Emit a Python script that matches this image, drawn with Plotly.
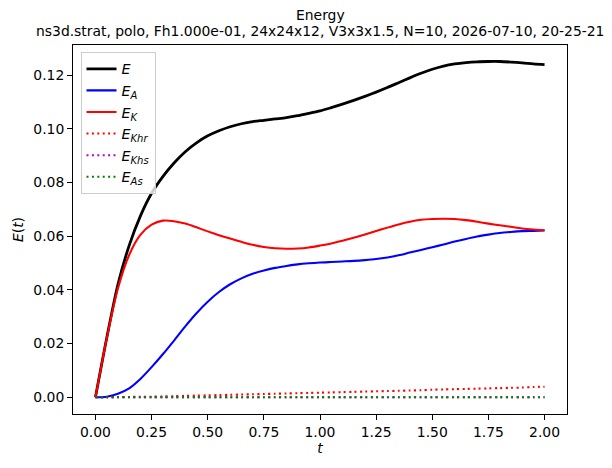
import plotly.graph_objects as go

t = [round(0.05 * i, 2) for i in range(41)]

E = [0.0, 0.0220, 0.0420, 0.0565, 0.0675, 0.0760, 0.0822, 0.0873, 0.0915, 0.0948,
     0.0974, 0.0993, 0.1008, 0.1019, 0.1027, 0.1032, 0.1037, 0.1042, 0.1049, 0.1058,
     0.1067, 0.1079, 0.1092, 0.1106, 0.1121, 0.1137, 0.1154, 0.1172, 0.1190, 0.1207,
     0.1222, 0.1234, 0.1242, 0.1247, 0.1250, 0.1251, 0.1251, 0.1249, 0.1246, 0.1242,
     0.1239]

E_A = [0.0, 0.0002, 0.0013, 0.0033, 0.0068, 0.0112, 0.0160, 0.0211, 0.0264, 0.0313,
       0.0356, 0.0392, 0.0421, 0.0443, 0.0460, 0.0472, 0.0482, 0.0489, 0.0495, 0.0499,
       0.0502, 0.0504, 0.0506, 0.0508, 0.0511, 0.0515, 0.0521, 0.0529, 0.0539, 0.0549,
       0.0559, 0.0569, 0.0580, 0.0590, 0.0599, 0.0606, 0.0612, 0.0616, 0.0619, 0.0620,
       0.0621]

E_K = [0.0, 0.0218, 0.0405, 0.0530, 0.0605, 0.0643, 0.0658, 0.0656, 0.0647, 0.0633,
       0.0618, 0.0604, 0.0591, 0.0579, 0.0568, 0.0560, 0.0555, 0.0553, 0.0554, 0.0558,
       0.0565, 0.0573, 0.0583, 0.0594, 0.0606, 0.0619, 0.0632, 0.0644, 0.0654, 0.0661,
       0.0664, 0.0665, 0.0664, 0.0660, 0.0654, 0.0647, 0.0641, 0.0635, 0.0629, 0.0625,
       0.0622]

E_Khr = [0.0, 0.0, 0.0001, 0.0001, 0.0002, 0.0002, 0.0003, 0.0004, 0.0005, 0.0006,
         0.0007, 0.0008, 0.0009, 0.0010, 0.0011, 0.0012, 0.0013, 0.0014, 0.0015, 0.0016,
         0.0017, 0.0018, 0.0019, 0.0020, 0.0021, 0.0022, 0.0023, 0.0024, 0.0025, 0.0026,
         0.0028, 0.0029, 0.0030, 0.0031, 0.0032, 0.0033, 0.0034, 0.0035, 0.0036, 0.0038,
         0.0039]

E_Khs = [0.0] * 2 + [0.00001] * 39
E_As = [0.0] * 2 + [0.00001] * 39

title_line1 = "Energy"
title_line2 = "ns3d.strat, polo, Fh1.000e-01, 24x24x12, V3x3x1.5, N=10, 2026-07-10, 20-25-21"

FONT = "DejaVu Sans"
DOT = "2px,3.4px"

series = [
    ("<i>E</i>", E, "black", 2.78, "solid"),
    ("<i>E<sub>A</sub></i>", E_A, "blue", 2.08, "solid"),
    ("<i>E<sub>K</sub></i>", E_K, "red", 2.08, "solid"),
    ("<i>E<sub>Khr</sub></i>", E_Khr, "red", 2.08, DOT),
    ("<i>E<sub>Khs</sub></i>", E_Khs, "#bf00bf", 2.08, DOT),
    ("<i>E<sub>As</sub></i>", E_As, "green", 2.08, DOT),
]

fig = go.Figure()
for name, y, color, w, dash in series:
    fig.add_trace(go.Scatter(x=t, y=y, mode="lines", name=name,
                             line=dict(color=color, width=w, dash=dash,
                                       shape="spline", smoothing=0.8)))

axis_common = dict(showline=True, linecolor="black", linewidth=1.1, mirror=True,
                   ticks="outside", ticklen=4.9, tickwidth=1.1, tickcolor="black",
                   showgrid=False, zeroline=False,
                   tickfont=dict(family=FONT, size=13.9, color="black"))

fig.update_layout(
    width=612, height=468,
    margin=dict(l=72.5, r=44.5, t=45, b=53.7),
    paper_bgcolor="white", plot_bgcolor="white",
    font=dict(family=FONT, size=13.9, color="black"),
    showlegend=True,
    legend=dict(x=0.0152, y=0.981, xanchor="left", yanchor="top",
                bgcolor="rgba(255,255,255,0.8)", bordercolor="#cccccc", borderwidth=1,
                font=dict(family=FONT, size=14.3, color="black"),
                itemwidth=30, tracegroupgap=0),
    xaxis=dict(range=[-0.1, 2.1], tickvals=[0, 0.25, 0.5, 0.75, 1.0, 1.25, 1.5, 1.75, 2.0],
               ticktext=["0.00", "0.25", "0.50", "0.75", "1.00", "1.25", "1.50", "1.75", "2.00"],
               title=dict(text="<i>t</i>", font=dict(family=FONT, size=13.9), standoff=4),
               **axis_common),
    yaxis=dict(range=[-0.00625, 0.13125], tickvals=[0, 0.02, 0.04, 0.06, 0.08, 0.10, 0.12],
               ticktext=["0.00", "0.02", "0.04", "0.06", "0.08", "0.10", "0.12"],
               title=dict(text="<i>E</i>(<i>t</i>)", font=dict(family=FONT, size=13.9), standoff=6),
               **axis_common),
    annotations=[
        dict(text=title_line1, xref="paper", yref="paper", x=0.5, y=1, xanchor="center",
             yanchor="bottom", yshift=20, showarrow=False, font=dict(family=FONT, size=13.9)),
        dict(text=title_line2, xref="paper", yref="paper", x=0.5, y=1, xanchor="center",
             yanchor="bottom", yshift=4, showarrow=False, font=dict(family=FONT, size=13.9)),
    ],
)

fig.write_html("out.html")
